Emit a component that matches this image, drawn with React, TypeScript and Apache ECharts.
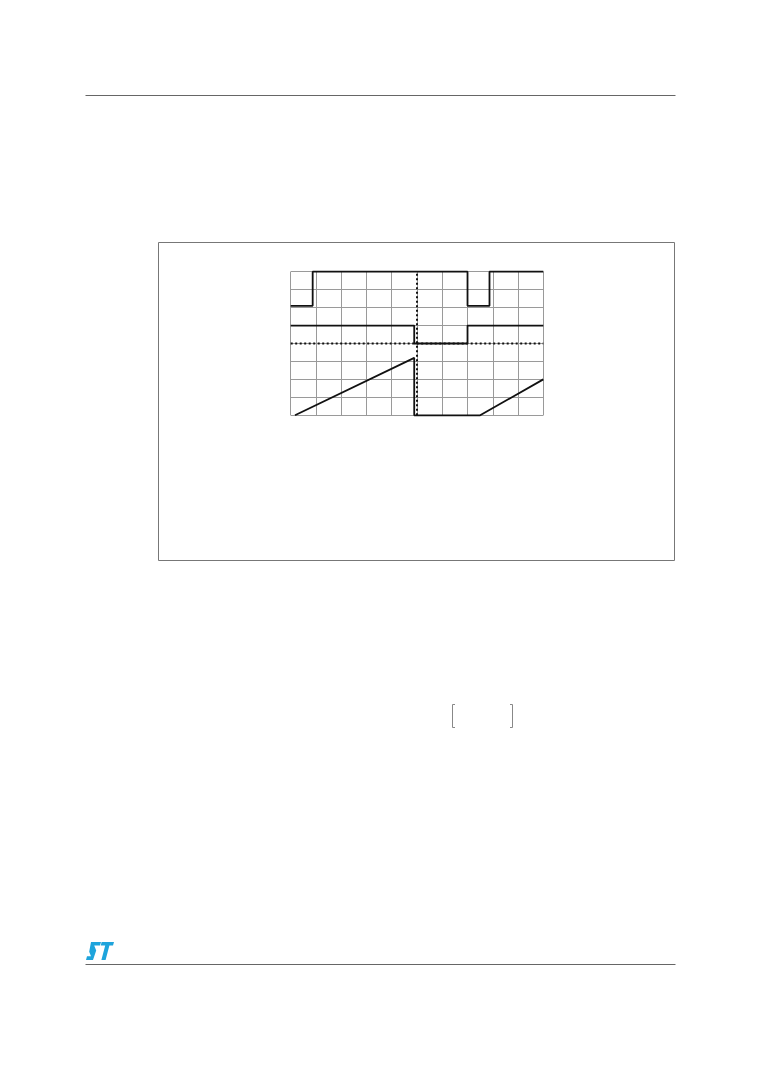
import React, { useEffect, useRef } from "react";
import * as echarts from "echarts";

// Grid divisions (oscilloscope screen)
const xDivisions = [0, 10];
const yDivisions = [0, 8];

// Trace 1 (top square wave)
const clockX = [0, 0.87, 0.87, 7, 7, 7.87, 7.87, 10];
const clockY = [6.1, 6.1, 8, 8, 6.1, 6.1, 8, 8];

// Trace 2 (middle pulse)
const gateX = [0, 4.89, 4.89, 7, 7, 10];
const gateY = [5, 5, 4, 4, 5, 5];

// Trace 3 (ramp)
const rampX = [0.17, 4.89, 4.89, 7.5, 10];
const rampY = [0, 3.2, 0, 0, 2];

// Dotted centre lines
const centerX = 5;
const centerY = 4;

const zip = (xs: number[], ys: number[]) => xs.map((x, i) => [x, ys[i]]);

const logoPath =
  "M5 0 H15 L14 3.2 H8.2 L10.2 7.5 L7 16 H0 L1 12.8 H5 L3.2 8.8 Z M15.6 0 H28 L27 3.2 H23.4 L19.6 16 H15.4 L19.2 3.2 H14.8 Z";

let registered = false;

export default function App() {
  const ref = useRef<HTMLDivElement>(null);
  useEffect(() => {
    if (!ref.current) return;
    if (!registered) {
      echarts.graphic.registerShape("logo", echarts.graphic.extendPath(logoPath as any, {}) as any);
      registered = true;
    }
    const chart = echarts.init(ref.current, null, { renderer: "svg" });
    const traceStyle = { color: "#111", width: 1.8 };
    const dotStyle = { color: "#111", width: 2, type: [2, 2.5] as any };
    chart.setOption({
      animation: false,
      backgroundColor: "#ffffff",
      grid: { left: 290.7, top: 271.7, width: 252.6, height: 143.6, containLabel: false },
      xAxis: {
        type: "value",
        min: xDivisions[0],
        max: xDivisions[1],
        interval: 1,
        axisLine: { show: false },
        axisTick: { show: false },
        axisLabel: { show: false },
        splitLine: { show: true, lineStyle: { color: "#9a9a9a", width: 1 } },
      },
      yAxis: {
        type: "value",
        min: yDivisions[0],
        max: yDivisions[1],
        interval: 1,
        axisLine: { show: false },
        axisTick: { show: false },
        axisLabel: { show: false },
        splitLine: { show: true, lineStyle: { color: "#9a9a9a", width: 1 } },
      },
      series: [
        {
          type: "line",
          data: [[centerX, yDivisions[0]], [centerX, yDivisions[1]]],
          showSymbol: false,
          lineStyle: dotStyle,
          clip: false,
          silent: true,
        },
        {
          type: "line",
          data: [[xDivisions[0], centerY], [xDivisions[1], centerY]],
          showSymbol: false,
          lineStyle: dotStyle,
          clip: false,
          silent: true,
        },
        {
          type: "line",
          data: zip(clockX, clockY),
          showSymbol: false,
          lineStyle: traceStyle,
          clip: false,
        },
        {
          type: "line",
          data: zip(gateX, gateY),
          showSymbol: false,
          lineStyle: traceStyle,
          clip: false,
        },
        {
          type: "line",
          data: zip(rampX, rampY),
          showSymbol: false,
          lineStyle: traceStyle,
          clip: false,
        },
      ],
      graphic: [
        { type: "line", shape: { x1: 85.5, y1: 95.5, x2: 675.5, y2: 95.5 }, style: { stroke: "#666", lineWidth: 1 } },
        { type: "rect", shape: { x: 158.5, y: 242.5, width: 516, height: 318 }, style: { fill: "none", stroke: "#777", lineWidth: 1 } },
        { type: "polyline", shape: { points: [[455, 704.5], [452.5, 704.5], [452.5, 727.5], [455, 727.5]] }, style: { fill: "none", stroke: "#888", lineWidth: 1 } },
        { type: "polyline", shape: { points: [[510, 704.5], [512.5, 704.5], [512.5, 727.5], [510, 727.5]] }, style: { fill: "none", stroke: "#888", lineWidth: 1 } },
        { type: "line", shape: { x1: 85.5, y1: 964.5, x2: 675.5, y2: 964.5 }, style: { stroke: "#666", lineWidth: 1 } },
        { type: "logo", x: 86, y: 942, scaleX: 1, scaleY: 1.12, style: { fill: "#1ea4dc", stroke: "none" } },
      ],
    });
    return () => chart.dispose();
  }, []);
  return (
    <div
      ref={ref}
      style={{ position: "absolute", left: 0, top: 0, width: 761, height: 1076, background: "#fff" }}
    />
  );
}
